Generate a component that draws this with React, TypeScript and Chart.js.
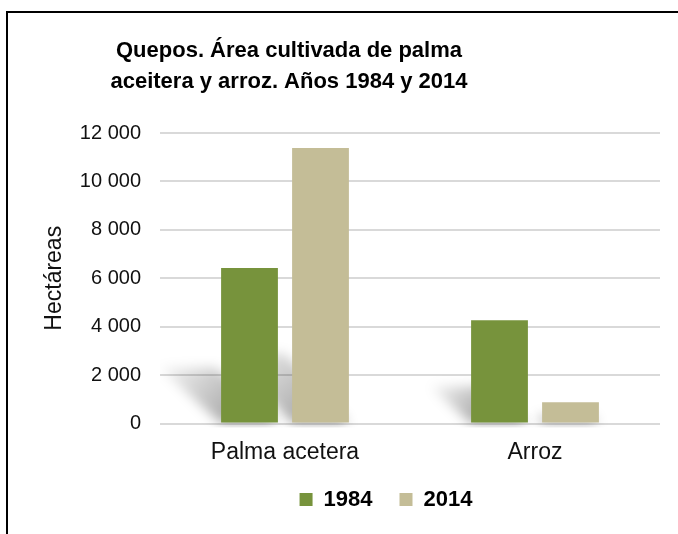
import React, { useEffect, useRef } from 'react';
import { Chart, registerables } from 'chart.js';

Chart.register(...registerables);

const categories = ['Palma acetera', 'Arroz'];
const seriesLabels = ['1984', '2014'];
const values1984 = [6420, 4260];
const values2014 = [11380, 880];
const seriesColors = ['#77933C', '#C4BD97'];
const titleLines = ['Quepos. Área cultivada de palma', 'aceitera y arroz. Años 1984 y 2014'];
const yAxisTitle = 'Hectáreas';
const yMin = 0;
const yMax = 12000;
const yStep = 2000;

const FONT = '"Liberation Sans", Arial, Helvetica, sans-serif';

const formatThousands = (v: number) => String(v).replace(/\B(?=(\d{3})+(?!\d))/g, '\u00a0');

const recenterPlugin = {
  id: 'recenter',
  afterLayout(chart: any) {
    const shift = (box: any, cx: number) => {
      if (!box) return;
      const d = cx - (box.left + box.right) / 2;
      box.left += d;
      box.right += d;
    };
    shift(chart.titleBlock, 289);
    shift(chart.legend, 386);
  },
};

const shadowPlugin = {
  id: 'perspectiveShadow',
  beforeDatasetsDraw(chart: any) {
    const ctx = chart.ctx as CanvasRenderingContext2D;
    const area = chart.chartArea;
    const base = chart.scales.y.getPixelForValue(0);
    ctx.save();
    ctx.beginPath();
    ctx.rect(area.left, area.top, area.right - area.left, area.bottom - area.top + 4);
    ctx.clip();
    ctx.filter = 'blur(6px)';
    chart.data.datasets.forEach((_: any, i: number) => {
      const meta = chart.getDatasetMeta(i);
      meta.data.forEach((bar: any) => {
        const { x, y, width } = bar.getProps(['x', 'y', 'width'], true);
        const h = base - y;
        const l = x - width / 2;
        const r = x + width / 2;
        const dx = Math.min(h * 0.4, 64);
        const dy = Math.min(h * 0.36, 70);
        const g = ctx.createLinearGradient(l, base, l - dx, base - dy);
        g.addColorStop(0, 'rgba(0,0,0,0.32)');
        g.addColorStop(1, 'rgba(0,0,0,0.03)');
        ctx.fillStyle = g;
        ctx.beginPath();
        ctx.moveTo(l, base);
        ctx.lineTo(r, base);
        ctx.lineTo(r - dx, base - dy);
        ctx.lineTo(l - dx, base - dy);
        ctx.closePath();
        ctx.fill();
      });
    });
    ctx.restore();
  },
};

export default function App() {
  const canvasRef = useRef<HTMLCanvasElement | null>(null);

  useEffect(() => {
    if (!canvasRef.current) return;
    const chart = new Chart(canvasRef.current, {
      type: 'bar',
      data: {
        labels: categories,
        datasets: [
          {
            label: seriesLabels[0],
            data: values1984,
            backgroundColor: seriesColors[0],
            borderWidth: 0,
            categoryPercentage: 0.568,
            barPercentage: 0.8,
          },
          {
            label: seriesLabels[1],
            data: values2014,
            backgroundColor: seriesColors[1],
            borderWidth: 0,
            categoryPercentage: 0.568,
            barPercentage: 0.8,
          },
        ],
      },
      options: {
        animation: false,
        responsive: true,
        maintainAspectRatio: false,
        devicePixelRatio: 1,
        layout: { padding: { left: 30, right: 18, top: 24, bottom: 13.5 } },
        font: { family: FONT },
        plugins: {
          title: {
            display: true,
            text: titleLines,
            color: '#000',
            font: { family: FONT, size: 22, weight: 'bold', lineHeight: 1.4 },
            padding: { top: 11.5, bottom: 35.9 },
          },
          legend: {
            display: true,
            position: 'bottom',
            labels: {
              color: '#000',
              font: { family: FONT, size: 22, weight: 'bold' },
              boxWidth: 13,
              boxHeight: 13,
              padding: 27,
            },
          },
          tooltip: { enabled: false },
        },
        scales: {
          x: {
            afterFit: (scale: any) => {
              scale.height = 38;
            },
            grid: { display: false, drawTicks: false },
            border: { display: false },
            ticks: {
              color: '#111',
              font: { family: FONT, size: 23 },
              padding: 15,
            },
          },
          y: {
            min: yMin,
            max: yMax,
            afterFit: (scale: any) => {
              scale.width = 130;
            },
            grid: { color: '#d9d9d9', lineWidth: 2, drawTicks: false },
            border: { display: false },
            ticks: {
              stepSize: yStep,
              color: '#111',
              font: { family: FONT, size: 20 },
              padding: 19,
              callback: (v: any) => formatThousands(Number(v)),
            },
            title: {
              display: true,
              text: yAxisTitle,
              color: '#111',
              font: { family: FONT, size: 23 },
              padding: { top: 11, bottom: 0 },
            },
          },
        },
      },
      plugins: [recenterPlugin, shadowPlugin],
    });
    return () => chart.destroy();
  }, []);

  return (
    <div style={{ position: 'fixed', left: 0, top: 0, width: 678, height: 534, overflow: 'hidden', background: '#fff' }}>
      <div
        style={{
          position: 'absolute',
          left: 6,
          top: 11,
          width: 1000,
          height: 1000,
          borderLeft: '2px solid #000',
          borderTop: '2px solid #000',
        }}
      />
      <div style={{ position: 'absolute', left: 0, top: 0, width: 678, height: 534 }}>
        <canvas ref={canvasRef} />
      </div>
    </div>
  );
}
